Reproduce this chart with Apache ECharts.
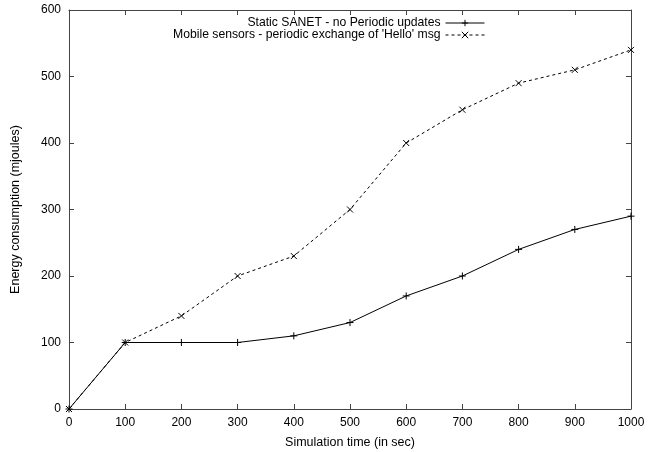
<!DOCTYPE html>
<html><head><meta charset="utf-8">
<script src="https://cdn.jsdelivr.net/npm/echarts@6/dist/echarts.min.js"></script>
<style>html,body{margin:0;padding:0;background:#fff}#c{width:658px;height:452px}</style>
</head><body><div id="c"></div>
<script>
const times = [0,100,200,300,400,500,600,700,800,900,1000];
const staticSanet = [0,100,100,100,110,130,170,200,240,270,290];
const mobileSensors = [0,100,140,200,230,300,400,450,490,510,540];
const seriesNames = ["Static SANET - no Periodic updates", "Mobile sensors - periodic exchange of 'Hello' msg"];
const xTitle = "Simulation time (in sec)";
const yTitle = "Energy consumption (mjoules)";

const font = "'Liberation Sans', Arial, sans-serif";
const axisCol = '#444';
const plus = 'path://M0,5L10,5M5,0L5,10';
const cross = 'path://M0,0L10,10M10,0L0,10';
function pairs(ys){ return times.map((t,i)=>[t, ys[i]]); }
const chart = echarts.init(document.getElementById('c'), null, {renderer:'canvas'});
function axis(extra){
  return Object.assign({
    type:'value', min:0, splitLine:{show:false},
    axisLine:{show:true, onZero:false, lineStyle:{color:axisCol, width:1}},
    axisTick:{show:true, inside:true, length:5, lineStyle:{color:axisCol}},
    axisLabel:{color:'#000', fontFamily:font, fontSize:12, margin:8, formatter:v=>String(v)}
  }, extra);
}
chart.setOption({
  animation:false,
  grid:{left:69, right:27, top:10, bottom:43, outerBoundsMode:'none', containLabel:false},
  textStyle:{fontFamily:font},
  legend:{
    orient:'vertical', right:168, top:15, align:'right',
    itemWidth:39, itemHeight:8, itemGap:0, padding:[2,5,2,5],
    textStyle:{fontFamily:font, fontSize:12.2, color:'#000', lineHeight:12},
    lineStyle:{width:1},
    itemStyle:{borderWidth:1},
    data:seriesNames
  },
  xAxis:[
    axis({max:1000, interval:100,
      name:xTitle, nameLocation:'middle', nameGap:27,
      nameTextStyle:{fontFamily:font, fontSize:12.5, color:'#000'}}),
    axis({max:1000, interval:100, position:'top', axisLabel:{show:false}})
  ],
  yAxis:[
    axis({max:600, interval:100,
      name:yTitle, nameLocation:'middle', nameGap:47,
      nameTextStyle:{fontFamily:font, fontSize:12.5, color:'#000'}}),
    axis({max:600, interval:100, position:'right', axisLabel:{show:false}})
  ],
  series:[
    {name:seriesNames[0], type:'line', data:pairs(staticSanet),
     symbol:plus, symbolSize:7, showAllSymbol:true,
     lineStyle:{color:'#000', width:1, type:'solid'},
     itemStyle:{color:'#000', borderColor:'#000', borderWidth:1}},
    {name:seriesNames[1], type:'line', data:pairs(mobileSensors),
     symbol:cross, symbolSize:6, showAllSymbol:true,
     lineStyle:{color:'#000', width:1, type:[3,3]},
     itemStyle:{color:'#000', borderColor:'#000', borderWidth:1}}
  ]
});
</script></body></html>
